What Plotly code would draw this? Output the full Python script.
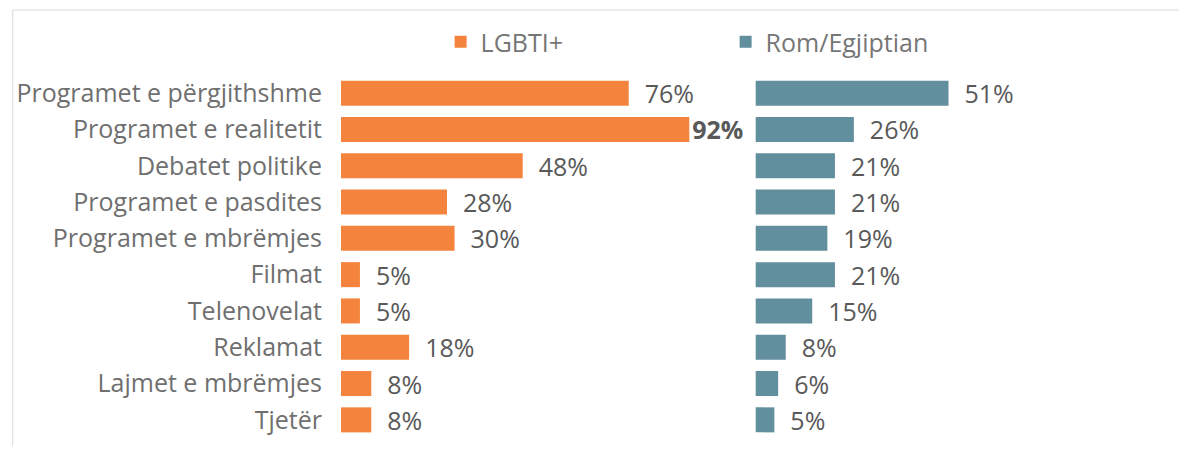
import plotly.graph_objects as go

categories = ["Programet e përgjithshme", "Programet e realitetit", "Debatet politike",
              "Programet e pasdites", "Programet e mbrëmjes", "Filmat", "Telenovelat",
              "Reklamat", "Lajmet e mbrëmjes", "Tjetër"]
lgbti = [76, 92, 48, 28, 30, 5, 5, 18, 8, 8]
rom = [51, 26, 21, 21, 19, 21, 15, 8, 6, 5]

ORANGE = "#F4843D"
TEAL = "#628F9E"
OFF = 8  # page body margin
W, H = 1187 - 2 * OFF, 454 - 2 * OFF
ML, MT = 338 - OFF, 75 - OFF
PW, PH = 796, 363
MR = W - ML - PW
MB = H - MT - PH
FS = 25

NB = "\u00a0\u00a0"
lg_tmpl = [("<b>%{x}%</b>" if v == max(lgbti) else NB + "%{x}%") for v in lgbti]
rom_tmpl = [NB + "%{x}%" for v in rom]

fig = go.Figure()
fig.add_trace(go.Bar(
    y=categories, x=lgbti, orientation="h", name="LGBTI+",
    marker=dict(color=ORANGE, line=dict(width=0)),
    texttemplate=lg_tmpl, textposition="outside", cliponaxis=False,
    constraintext="none",
    outsidetextfont=dict(family="Open Sans", size=FS, color="#595959"),
    xaxis="x", yaxis="y", hoverinfo="skip"))
fig.add_trace(go.Bar(
    y=categories, x=rom, orientation="h", name="Rom/Egjiptian",
    marker=dict(color=TEAL, line=dict(width=0)),
    texttemplate=rom_tmpl, textposition="outside", cliponaxis=False,
    constraintext="none",
    outsidetextfont=dict(family="Open Sans", size=FS, color="#595959"),
    xaxis="x2", yaxis="y", hoverinfo="skip"))

d1 = 380 / PW
d2 = 416 / PW
fig.update_layout(
    width=W, height=H,
    margin=dict(l=ML, r=MR, t=MT, b=MB),
    paper_bgcolor="white", plot_bgcolor="white",
    font=dict(family="Open Sans", size=FS, color="#6f6f6f"),
    bargap=0.31,
    xaxis=dict(domain=[0, d1], range=[0, 100], visible=False, fixedrange=True),
    xaxis2=dict(domain=[d2, 1], range=[0, 100], visible=False, anchor="y", fixedrange=True),
    yaxis=dict(autorange="reversed", showgrid=False, zeroline=False, showline=False,
               ticks="", ticklabelstandoff=18, fixedrange=True,
               tickfont=dict(family="Open Sans", size=FS, color="#6f6f6f")),
    showlegend=True,
    legend=dict(orientation="h", x=(430 - ML) / PW, xanchor="left",
                y=1 + (MT - (42 - OFF)) / PH, yanchor="middle",
                entrywidth=240, entrywidthmode="pixels",
                font=dict(family="Open Sans", size=FS, color="#767676"),
                bgcolor="rgba(0,0,0,0)", itemclick=False, itemdoubleclick=False),
    shapes=[
        dict(type="line", xref="paper", yref="paper",
             x0=(0.5 - ML) / PW, x1=(W + 5 - ML) / PW,
             y0=1 + (MT - 2) / PH, y1=1 + (MT - 2) / PH,
             line=dict(color="#d9d9d9", width=1)),
        dict(type="line", xref="paper", yref="paper",
             x0=(0.5 - ML) / PW, x1=(0.5 - ML) / PW,
             y0=1 + (MT - 2) / PH, y1=-(MB + 5) / PH,
             line=dict(color="#d9d9d9", width=1)),
    ],
)

fig.write_html("out.html")
